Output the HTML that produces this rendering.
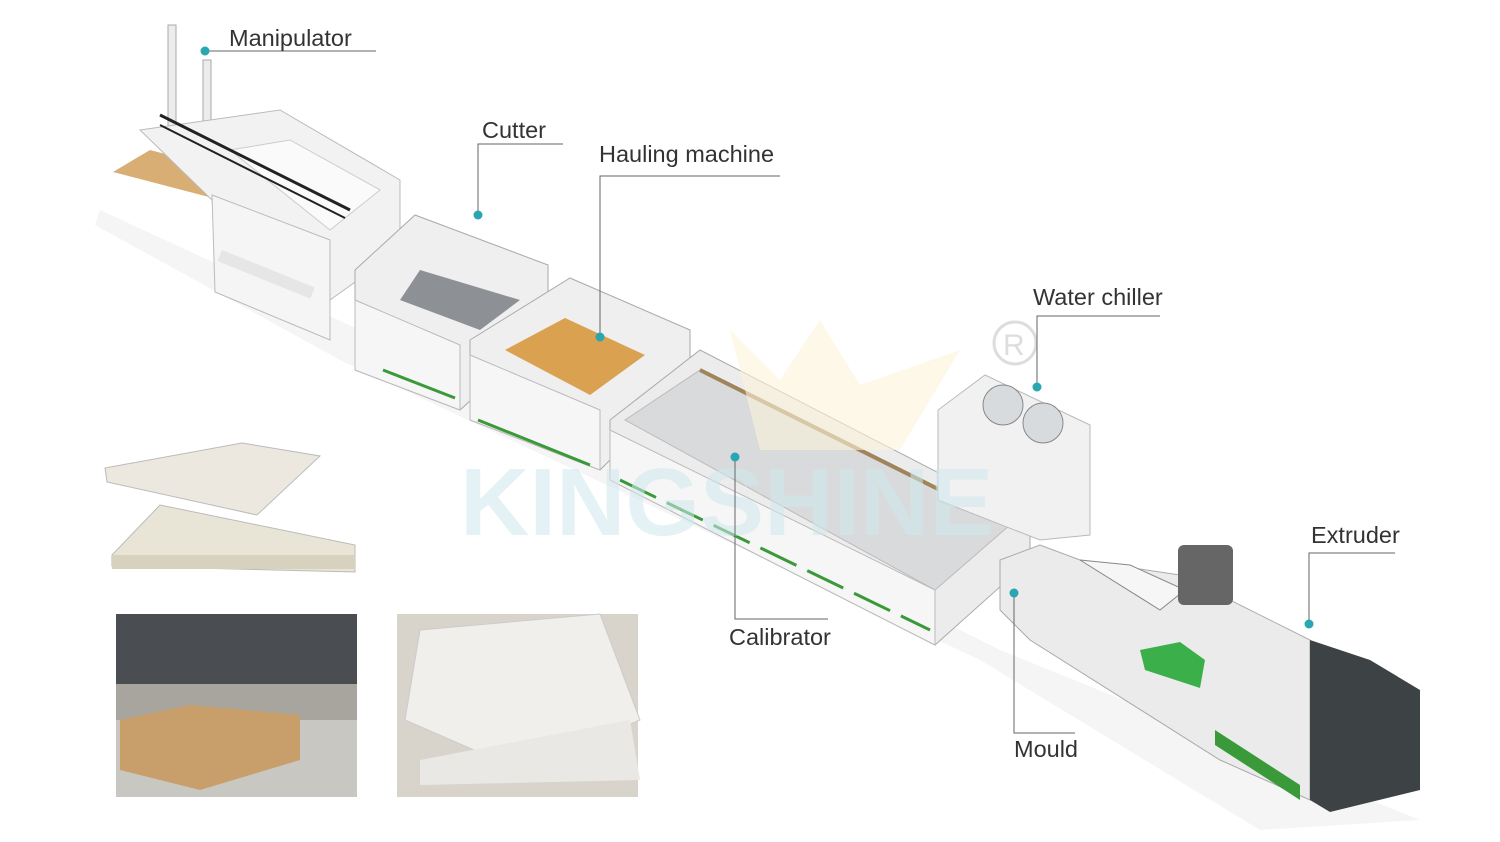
<!DOCTYPE html>
<html><head><meta charset="utf-8"><style>
html,body{margin:0;padding:0;background:#fff;}
body{width:1500px;height:842px;position:relative;overflow:hidden;font-family:"Liberation Sans",sans-serif;}
svg{position:absolute;left:0;top:0;}
</style></head><body>
<svg width="1500" height="842" viewBox="0 0 1500 842" xmlns="http://www.w3.org/2000/svg">
<!-- shadow -->
<polygon points="100,210 360,330 1000,650 1420,820 1260,830 980,660 340,360 95,225" fill="#f5f5f5"/>
<!-- manipulator -->
<polygon points="113,172 150,150 272,182 232,203" fill="#d8ae74"/>
<rect x="168" y="25" width="8" height="110" fill="#ececec" stroke="#aaa"/>
<rect x="203" y="60" width="8" height="80" fill="#ececec" stroke="#aaa"/>
<polygon points="140,130 280,110 400,180 400,250 330,300 220,290 212,200" fill="#f2f2f2" stroke="#bbb"/>
<polygon points="230,150 290,140 380,190 330,230" fill="#fafafa" stroke="#ccc"/>
<polygon points="212,195 330,240 330,340 215,292" fill="#f5f5f5" stroke="#bbb"/>
<rect x="222" y="250" width="100" height="12" fill="#e6e6e6" transform="rotate(22 222 250)"/>
<line x1="160" y1="115" x2="350" y2="210" stroke="#222" stroke-width="3"/>
<line x1="160" y1="125" x2="345" y2="218" stroke="#222" stroke-width="2"/>
<!-- cutter -->
<polygon points="355,270 415,215 548,265 548,330 460,410 355,370" fill="#efefef" stroke="#aaa"/>
<polygon points="355,300 460,345 460,410 355,370" fill="#f6f6f6" stroke="#bbb"/>
<polygon points="420,270 520,300 480,330 400,300" fill="#8d9196"/>
<line x1="383" y1="370" x2="455" y2="398" stroke="#3a9a3a" stroke-width="3"/>
<!-- hauling -->
<polygon points="470,340 570,278 690,330 690,380 600,470 470,420" fill="#efefef" stroke="#aaa"/>
<polygon points="505,350 565,318 645,355 590,395" fill="#d9a150"/>
<polygon points="470,355 600,410 600,470 470,420" fill="#f6f6f6" stroke="#bbb"/>
<line x1="478" y1="420" x2="590" y2="465" stroke="#3a9a3a" stroke-width="3"/>
<!-- calibrator -->
<polygon points="610,420 700,350 1030,520 1030,560 935,645 610,480" fill="#ececec" stroke="#aaa"/>
<polygon points="625,420 700,370 1010,525 935,590" fill="#d8dadc" stroke="#bbb"/>
<polygon points="610,430 935,590 935,645 610,480" fill="#f6f6f6" stroke="#bbb"/>
<line x1="620" y1="480" x2="930" y2="630" stroke="#3a9a3a" stroke-width="3" stroke-dasharray="40,12"/>
<line x1="700" y1="370" x2="1010" y2="525" stroke="#a0845a" stroke-width="4"/>
<!-- water chiller -->
<polygon points="938,410 985,375 1090,425 1090,535 1040,540 938,500" fill="#f1f1f1" stroke="#bbb"/>
<circle cx="1003" cy="405" r="20" fill="#d8dbde" stroke="#888"/>
<circle cx="1043" cy="423" r="20" fill="#d8dbde" stroke="#888"/>
<!-- extruder -->
<polygon points="1000,560 1040,545 1080,560 1180,575 1310,640 1310,800 1220,760 1030,640 1000,610" fill="#ebebeb" stroke="#aaa"/>
<polygon points="1080,560 1130,565 1185,590 1160,610" fill="#f6f6f6" stroke="#888"/>
<rect x="1178" y="545" width="55" height="60" rx="6" fill="#666"/>
<polygon points="1140,650 1180,642 1205,660 1200,688 1145,670" fill="#3bb04a"/>
<polygon points="1310,640 1370,660 1420,690 1420,790 1330,812 1310,800" fill="#3d4245"/>
<polygon points="1215,730 1300,785 1300,800 1215,745" fill="#3a9a3a"/>
<!-- watermark -->
<polygon points="730,330 780,380 820,320 860,385 960,350 900,450 760,450" fill="#fcf3d8" opacity="0.6"/>
<text x="460" y="535" font-size="96" font-weight="bold" fill="#cfe9ee" opacity="0.55" font-family="Liberation Sans,sans-serif">KINGSHINE</text>
<circle cx="1015" cy="343" r="21" fill="none" stroke="#ddd" stroke-width="3"/>
<text x="1003" y="355" font-size="30" fill="#ddd">R</text>
<!-- panel samples -->
<polygon points="112,555 160,505 355,545 355,572 112,566" fill="#e8e5d6" stroke="#bbb"/>
<rect x="112" y="555" width="243" height="14" fill="#d6d2bd"/>
<polygon points="105,468 242,443 320,456 257,515 107,482" fill="#ece8df" stroke="#bbb"/>
<!-- photos -->
<rect x="116" y="614" width="241" height="183" fill="#a8a49e"/>
<rect x="116" y="614" width="241" height="70" fill="#4a4d52"/>
<rect x="116" y="720" width="241" height="77" fill="#c9c7c2"/>
<polygon points="120,720 190,705 300,715 300,760 200,790 120,770" fill="#c89f6b"/>
<rect x="397" y="614" width="241" height="183" fill="#d8d4cc"/>
<polygon points="420,630 600,614 640,720 520,770 405,720" fill="#f0efec" stroke="#ccc"/>
<polygon points="420,760 630,720 640,780 420,785" fill="#e9e8e4"/>
</svg>
<svg width="1500" height="842" xmlns="http://www.w3.org/2000/svg" font-family="Liberation Sans,sans-serif" font-size="23.5" fill="#333">
<g stroke="#666" stroke-width="1" fill="none">
<polyline points="205,51 376,51"/>
<polyline points="478,215 478,144 563,144"/>
<polyline points="600,337 600,176 780,176"/>
<polyline points="1037,387 1037,316 1160,316"/>
<polyline points="1309,624 1309,553 1395,553"/>
<polyline points="735,457 735,619 828,619"/>
<polyline points="1014,593 1014,733 1075,733"/>
</g>
<g fill="#2aa6b0">
<circle cx="205" cy="51" r="4.5"/><circle cx="478" cy="215" r="4.5"/><circle cx="600" cy="337" r="4.5"/>
<circle cx="1037" cy="387" r="4.5"/><circle cx="1309" cy="624" r="4.5"/><circle cx="735" cy="457" r="4.5"/><circle cx="1014" cy="593" r="4.5"/>
</g>
<text x="229" y="46">Manipulator</text>
<text x="482" y="138">Cutter</text>
<text x="599" y="162">Hauling machine</text>
<text x="1033" y="305">Water chiller</text>
<text x="1311" y="543">Extruder</text>
<text x="729" y="645">Calibrator</text>
<text x="1014" y="757">Mould</text>
</svg>
</body></html>
